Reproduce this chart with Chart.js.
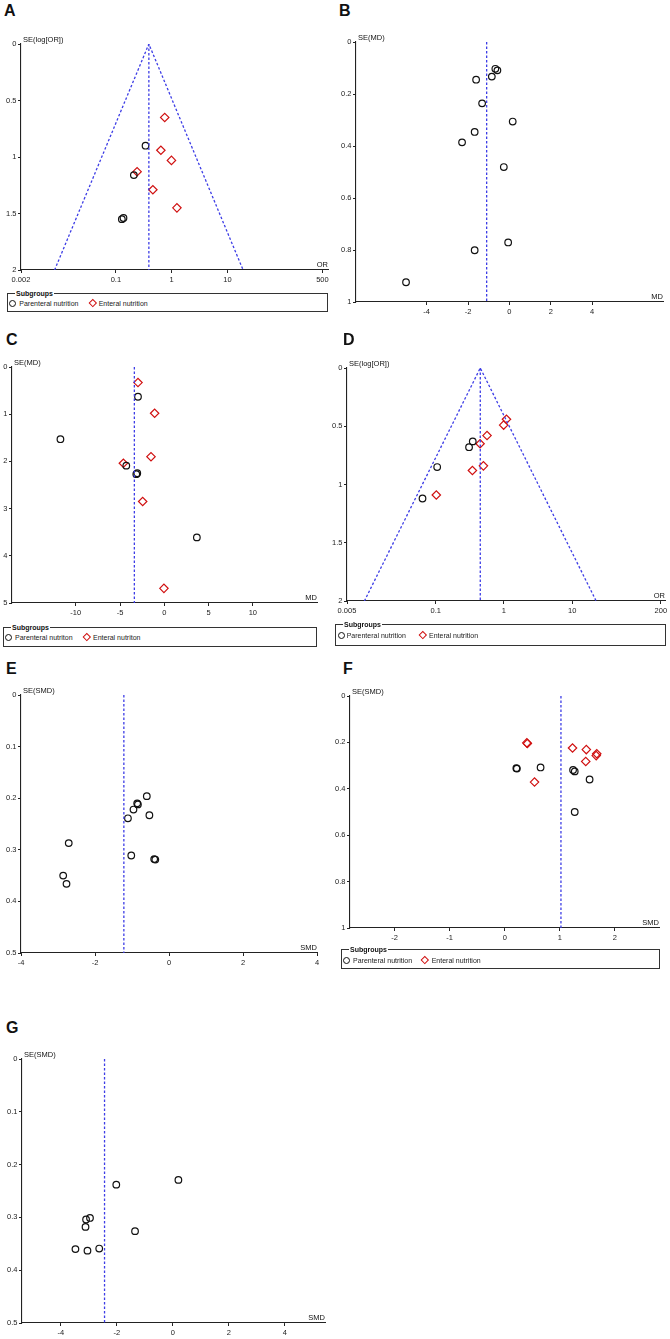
<!DOCTYPE html>
<html>
<head>
<meta charset="utf-8">
<script src="https://cdn.jsdelivr.net/npm/chart.js@4"></script>
<style>
* { box-sizing: border-box; }
body { margin: 0; background: #fff; }
#page { position: relative; width: 670px; height: 1339px; overflow: hidden; font-family: "Liberation Sans", Arial, sans-serif; color: #111; }
#page canvas { position: absolute; }
.tag { position: absolute; font-weight: bold; font-size: 16px; line-height: 16px; }
.box { position: absolute; border: 1px solid #333; }
.sub { position: absolute; font-size: 7px; line-height: 8px; font-weight: bold; background: #fff; padding: 0 1px; }
.txt { position: absolute; font-size: 7px; line-height: 9px; white-space: nowrap; color: #222; }
.circ { position: absolute; width: 7px; height: 7px; border: 1.2px solid #111; border-radius: 50%; }
.diam { position: absolute; width: 5.6px; height: 5.6px; border: 1.2px solid #d01010; transform: rotate(45deg); }
</style>
</head>
<body>
<div id="page"></div>
<script>
// ---- data ----
// A: SE(log[OR]) vs OR
const aTicksX = [0.002, 0.1, 1, 10, 500];
const aLabelsX = ['0.002', '0.1', '1', '10', '500'];
const aTicksY = [0, 0.5, 1, 1.5, 2];
const aLabelsY = ['0', '0.5', '1', '1.5', '2'];
const aParenteralOR = [0.34, 0.21, 0.128, 0.137];
const aParenteralSE = [0.90, 1.16, 1.55, 1.54];
const aEnteralOR = [0.75, 0.64, 0.99, 0.24, 0.46, 1.24];
const aEnteralSE = [0.65, 0.94, 1.03, 1.13, 1.29, 1.45];
const aSummaryOR = 0.39;
const aFunnelOR = [0.008, 0.39, 19];
const aFunnelSE = [2, 0, 2];

// B: SE(MD) vs MD
const bTicksX = [-4, -2, 0, 2, 4];
const bLabelsX = ['-4', '-2', '0', '2', '4'];
const bTicksY = [0, 0.2, 0.4, 0.6, 0.8, 1];
const bLabelsY = ['0', '0.2', '0.4', '0.6', '0.8', '1'];
const bMD = [-0.68, -0.58, -0.85, -1.61, -1.32, 0.16, -1.68, -2.29, -0.27, -0.06, -1.68, -5.0];
const bSE = [0.103, 0.109, 0.133, 0.145, 0.236, 0.306, 0.346, 0.386, 0.481, 0.771, 0.801, 0.924];
const bSummaryMD = -1.1;

// C: SE(MD) vs MD
const cTicksX = [-10, -5, 0, 5, 10];
const cLabelsX = ['-10', '-5', '0', '5', '10'];
const cTicksY = [0, 1, 2, 3, 4, 5];
const cLabelsY = ['0', '1', '2', '3', '4', '5'];
const cParenteralMD = [-2.97, -11.73, -4.29, -3.16, -3.05, 3.68];
const cParenteralSE = [0.63, 1.53, 2.09, 2.27, 2.25, 3.61];
const cEnteralMD = [-2.97, -1.09, -1.50, -4.62, -2.44, -0.04];
const cEnteralSE = [0.33, 0.98, 1.90, 2.04, 2.85, 4.69];
const cSummaryMD = -3.38;

// D: SE(log[OR]) vs OR
const dTicksX = [0.005, 0.1, 1, 10, 200];
const dLabelsX = ['0.005', '0.1', '1', '10', '200'];
const dTicksY = [0, 0.5, 1, 1.5, 2];
const dLabelsY = ['0', '0.5', '1', '1.5', '2'];
const dParenteralOR = [0.349, 0.308, 0.105, 0.064];
const dParenteralSE = [0.63, 0.68, 0.85, 1.12];
const dEnteralOR = [1.09, 0.99, 0.565, 0.447, 0.50, 0.345, 0.102];
const dEnteralSE = [0.44, 0.49, 0.58, 0.65, 0.84, 0.88, 1.09];
const dSummaryOR = 0.45;
const dFunnelOR = [0.009, 0.45, 22.5];
const dFunnelSE = [2, 0, 2];

// E: SE(SMD) vs SMD
const eTicksX = [-4, -2, 0, 2, 4];
const eLabelsX = ['-4', '-2', '0', '2', '4'];
const eTicksY = [0, 0.1, 0.2, 0.3, 0.4, 0.5];
const eLabelsY = ['0', '0.1', '0.2', '0.3', '0.4', '0.5'];
const eSMD = [-0.60, -0.53, -0.86, -0.84, -0.96, -1.11, -1.02, -0.40, -0.37, -2.71, -2.86, -2.77];
const eSE = [0.196, 0.233, 0.210, 0.212, 0.222, 0.239, 0.311, 0.318, 0.319, 0.287, 0.350, 0.366];
const eSummarySMD = -1.22;

// F: SE(SMD) vs SMD
const fTicksX = [-2, -1, 0, 1, 2];
const fLabelsX = ['-2', '-1', '0', '1', '2'];
const fTicksY = [0, 0.2, 0.4, 0.6, 0.8, 1];
const fLabelsY = ['0', '0.2', '0.4', '0.6', '0.8', '1'];
const fParenteralSMD = [0.21, 0.22, 0.65, 1.24, 1.27, 1.54, 1.27];
const fParenteralSE = [0.311, 0.313, 0.308, 0.319, 0.325, 0.36, 0.50];
const fEnteralSMD = [0.40, 0.41, 0.54, 1.23, 1.48, 1.47, 1.66, 1.67];
const fEnteralSE = [0.202, 0.205, 0.371, 0.224, 0.231, 0.282, 0.257, 0.249];
const fSummarySMD = 1.02;

// G: SE(SMD) vs SMD
const gTicksX = [-4, -2, 0, 2, 4];
const gLabelsX = ['-4', '-2', '0', '2', '4'];
const gTicksY = [0, 0.1, 0.2, 0.3, 0.4, 0.5];
const gLabelsY = ['0', '0.1', '0.2', '0.3', '0.4', '0.5'];
const gSMD = [0.20, -2.02, -2.96, -3.10, -3.12, -1.35, -3.48, -3.05, -2.63];
const gSE = [0.229, 0.238, 0.301, 0.304, 0.318, 0.326, 0.36, 0.363, 0.359];
const gSummarySMD = -2.44;

// ---- drawing ----
const page = document.getElementById('page');
const FONT = '"Liberation Sans", Arial, sans-serif';
const AXIS = '#222';
const BLUE = '#3d3de6';
const PAD_L = 24, PAD_T = 14, PAD_R = 10, PAD_B = 18;

const axisTitles = {
    id: 'axisTitles',
    afterDraw(chart, args, opts) {
        const { ctx, chartArea: a } = chart;
        ctx.save();
        ctx.font = '7.5px ' + FONT;
        ctx.fillStyle = '#111';
        ctx.textBaseline = 'middle';
        ctx.textAlign = 'left';
        ctx.fillText(opts.y, a.left + 2, a.top - 4);
        ctx.textAlign = 'right';
        ctx.fillText(opts.x, a.right, a.bottom - 5);
        ctx.restore();
    }
};

function zip(xs, ys) {
    return xs.map((x, i) => ({ x: x, y: ys[i] }));
}

function circles(xs, ys) {
    return { data: zip(xs, ys), pointStyle: 'circle', pointRadius: 3.3, pointBorderWidth: 1.2,
             pointBorderColor: '#111', pointBackgroundColor: 'rgba(0,0,0,0)' };
}

function diamonds(xs, ys) {
    return { data: zip(xs, ys), pointStyle: 'rectRot', pointRadius: 4.2, pointBorderWidth: 1.2,
             pointBorderColor: '#d01010', pointBackgroundColor: 'rgba(0,0,0,0)' };
}

function dashed(xs, ys) {
    return { data: zip(xs, ys), showLine: true, borderColor: BLUE, borderWidth: 1.3,
             borderDash: [2.5, 2], pointRadius: 0, fill: false };
}

function panel(p) {
    const [L, T, R, B] = p.area;
    const c = document.createElement('canvas');
    c.width = R - L + PAD_L + PAD_R;
    c.height = B - T + PAD_T + PAD_B;
    c.style.left = (L - PAD_L) + 'px';
    c.style.top = (T - PAD_T) + 'px';
    page.appendChild(c);

    const tickFont = { family: FONT, size: 7.5 };
    new Chart(c, {
        type: 'scatter',
        data: { datasets: p.datasets },
        options: {
            responsive: false,
            animation: false,
            events: [],
            layout: { padding: { left: 0, top: PAD_T, right: PAD_R, bottom: 0 } },
            plugins: {
                legend: { display: false },
                tooltip: { enabled: false },
                axisTitles: { x: p.xTitle, y: p.yTitle }
            },
            scales: {
                x: {
                    type: p.xType,
                    min: p.xMin,
                    max: p.xMax,
                    afterBuildTicks: s => { s.ticks = p.xTicks.map(v => ({ value: v })); },
                    afterFit: s => { s.height = PAD_B; },
                    ticks: { callback: (v, i) => p.xLabels[i], font: tickFont, color: '#222',
                             padding: 2.5, maxRotation: 0, autoSkip: false },
                    grid: { drawOnChartArea: false, tickLength: 3, color: AXIS },
                    border: { color: AXIS, width: 1.1 }
                },
                y: {
                    type: 'linear',
                    reverse: true,
                    min: 0,
                    max: p.yTicks[p.yTicks.length - 1],
                    afterBuildTicks: s => { s.ticks = p.yTicks.map(v => ({ value: v })); },
                    afterFit: s => { s.width = PAD_L; },
                    ticks: { callback: (v, i) => p.yLabels[i], font: tickFont, color: '#222',
                             padding: 1.5, autoSkip: false },
                    grid: { drawOnChartArea: false, tickLength: 3, color: AXIS },
                    border: { color: AXIS, width: 1.1 }
                }
            }
        },
        plugins: [axisTitles]
    });
}

function tag(letter, x, y) {
    const d = document.createElement('div');
    d.className = 'tag';
    d.textContent = letter;
    d.style.left = x + 'px';
    d.style.top = y + 'px';
    page.appendChild(d);
}

function el(cls, x, y, w, h, text) {
    const d = document.createElement('div');
    d.className = cls;
    d.style.left = x + 'px';
    d.style.top = y + 'px';
    if (w) d.style.width = w + 'px';
    if (h) d.style.height = h + 'px';
    if (text) d.textContent = text;
    page.appendChild(d);
}

function legend(box, rowY, cx, t1x, dx, t2x, label1, label2) {
    const [x, y, w, h] = box;
    el('box', x, y, w, h);
    el('sub', x + 8, y - 3.5, 0, 0, 'Subgroups');
    el('circ', cx - 3.5, rowY - 3.5);
    el('txt', t1x, rowY - 4.5, 0, 0, label1);
    el('diam', dx - 2.8, rowY - 3.3);
    el('txt', t2x, rowY - 4.5, 0, 0, label2);
}

// A
tag('A', 4, 3);
panel({
    area: [21, 44, 328, 270], xType: 'logarithmic', xMin: 0.002, xMax: 630,
    xTicks: aTicksX, xLabels: aLabelsX, yTicks: aTicksY, yLabels: aLabelsY,
    xTitle: 'OR', yTitle: 'SE(log[OR])',
    datasets: [
        dashed(aFunnelOR, aFunnelSE),
        dashed([aSummaryOR, aSummaryOR], [0, 2]),
        circles(aParenteralOR, aParenteralSE),
        diamonds(aEnteralOR, aEnteralSE)
    ]
});
legend([7, 293, 321, 19], 303, 12.7, 19.3, 92.7, 98.7, 'Parenteral nutrition', 'Enteral nutrition');

// B
tag('B', 339, 3);
panel({
    area: [356, 42, 663, 302], xType: 'linear', xMin: -7.42, xMax: 7.43,
    xTicks: bTicksX, xLabels: bLabelsX, yTicks: bTicksY, yLabels: bLabelsY,
    xTitle: 'MD', yTitle: 'SE(MD)',
    datasets: [
        dashed([bSummaryMD, bSummaryMD], [0, 1]),
        circles(bMD, bSE)
    ]
});

// C
tag('C', 6, 332);
panel({
    area: [12, 367, 317, 603], xType: 'linear', xMin: -17.2, xMax: 17.25,
    xTicks: cTicksX, xLabels: cLabelsX, yTicks: cTicksY, yLabels: cLabelsY,
    xTitle: 'MD', yTitle: 'SE(MD)',
    datasets: [
        dashed([cSummaryMD, cSummaryMD], [0, 5]),
        circles(cParenteralMD, cParenteralSE),
        diamonds(cEnteralMD, cEnteralSE)
    ]
});
legend([3, 627, 314, 20], 637.5, 8.3, 15, 86.7, 93, 'Parenteral nutriton', 'Enteral nutriton');

// D
tag('D', 343, 332);
panel({
    area: [347, 368, 665, 601], xType: 'logarithmic', xMin: 0.005, xMax: 230,
    xTicks: dTicksX, xLabels: dLabelsX, yTicks: dTicksY, yLabels: dLabelsY,
    xTitle: 'OR', yTitle: 'SE(log[OR])',
    datasets: [
        dashed(dFunnelOR, dFunnelSE),
        dashed([dSummaryOR, dSummaryOR], [0, 2]),
        circles(dParenteralOR, dParenteralSE),
        diamonds(dEnteralOR, dEnteralSE)
    ]
});
legend([335, 624, 331, 22], 635, 341, 346.7, 422.3, 429, 'Parenteral nutrition', 'Enteral nutrition');

// E
tag('E', 6, 661);
panel({
    area: [21, 695, 317, 953], xType: 'linear', xMin: -4, xMax: 4,
    xTicks: eTicksX, xLabels: eLabelsX, yTicks: eTicksY, yLabels: eLabelsY,
    xTitle: 'SMD', yTitle: 'SE(SMD)',
    datasets: [
        dashed([eSummarySMD, eSummarySMD], [0, 0.5]),
        circles(eSMD, eSE)
    ]
});

// F
tag('F', 343, 661);
panel({
    area: [350, 696, 659, 928], xType: 'linear', xMin: -2.81, xMax: 2.8,
    xTicks: fTicksX, xLabels: fLabelsX, yTicks: fTicksY, yLabels: fLabelsY,
    xTitle: 'SMD', yTitle: 'SE(SMD)',
    datasets: [
        dashed([fSummarySMD, fSummarySMD], [0, 1]),
        circles(fParenteralSMD, fParenteralSE),
        diamonds(fEnteralSMD, fEnteralSE)
    ]
});
legend([341, 949, 319, 20], 960, 346.7, 353, 425, 431.7, 'Parenteral nutrition', 'Enteral nutrition');

// G
tag('G', 6, 1020);
panel({
    area: [22, 1059, 325, 1323], xType: 'linear', xMin: -5.39, xMax: 5.44,
    xTicks: gTicksX, xLabels: gLabelsX, yTicks: gTicksY, yLabels: gLabelsY,
    xTitle: 'SMD', yTitle: 'SE(SMD)',
    datasets: [
        dashed([gSummarySMD, gSummarySMD], [0, 0.5]),
        circles(gSMD, gSE)
    ]
});
</script>
</body>
</html>
